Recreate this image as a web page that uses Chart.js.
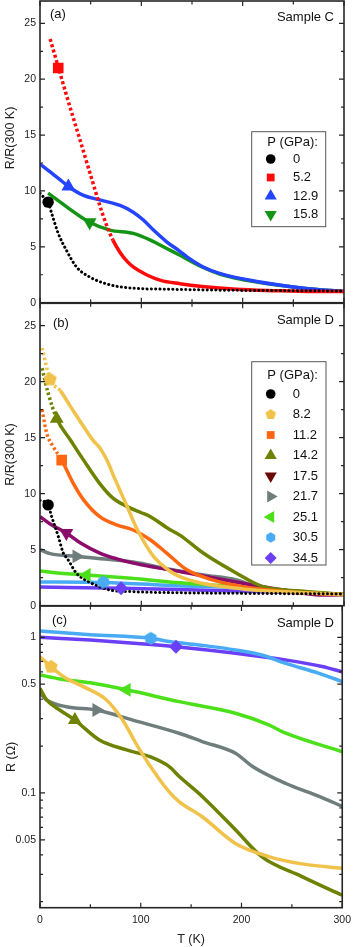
<!DOCTYPE html>
<html>
<head>
<meta charset="utf-8">
<script src="https://cdn.jsdelivr.net/npm/chart.js@4.4.1/dist/chart.umd.min.js"></script>
<style>
  body { margin: 0; background: #fff; width: 357px; height: 947px; position: relative; overflow: hidden; }
  canvas { position: absolute; left: 0; }
</style>
</head>
<body>
<canvas id="chartA" width="357" height="306" style="top:0px"></canvas>
<canvas id="chartB" width="357" height="310" style="top:300px"></canvas>
<canvas id="chartC" width="357" height="345" style="top:602px"></canvas>
<script>
// axis ticks
const X_MAJOR = [0, 100, 200, 300];
const X_MINOR = [50, 150, 250];
const Y_MAJOR = [0, 5, 10, 15, 20, 25];
const Y_MINOR = [2.5, 7.5, 12.5, 17.5, 22.5];
const LOG_MAJOR = [0.05, 0.1, 0.5, 1];
const LOG_MINOR = [0.02, 0.03, 0.04, 0.06, 0.07, 0.08, 0.09, 0.2, 0.3, 0.4, 0.6, 0.7, 0.8, 0.9];

// (a) sample C, R/R(300 K)
const T_A0 = [0, 4, 8, 11.5, 18, 26, 36, 49, 69, 92, 130, 180, 240, 300];
const R_A0 = [9.8, 9.4, 9.0, 8.0, 6.2, 4.7, 3.2, 2.3, 1.6, 1.3, 1.2, 1.12, 1.08, 1.05];
const T_A52 = [10, 18, 26, 33, 40, 46, 52, 59, 65, 72, 79, 86, 92, 105, 119, 138, 160, 194, 230, 270, 300];
const R_A52 = [23.6, 21.1, 18.6, 16.5, 14.4, 12.6, 10.8, 8.7, 7.1, 5.6, 4.5, 3.7, 3.2, 2.5, 2.0, 1.7, 1.45, 1.2, 1.08, 1.0, 1.0];
const T_A129 = [0, 10, 20, 28, 43, 59, 79, 92, 102, 112, 125, 138, 145, 161, 178, 214, 260, 300];
const R_A129 = [12.4, 11.7, 11.0, 10.4, 9.6, 9.2, 8.7, 8.1, 7.4, 6.5, 5.45, 4.6, 4.1, 3.2, 2.6, 1.9, 1.3, 1.0];
const T_A158 = [8, 26, 49, 69, 92, 109, 125, 138, 161, 178, 214, 260, 300];
const R_A158 = [9.8, 8.6, 7.2, 6.5, 6.2, 5.6, 4.85, 4.25, 3.15, 2.55, 1.85, 1.3, 1.0];
const KEYS_A = ['0', '5.2', '12.9', '15.8'];
const MARK_T_A = [8, 18, 28, 49];
const MARK_R_A = [9.0, 21.0, 10.4, 7.2];

// (b) sample D, R/R(300 K)
const T_B0 = [0, 8, 11.5, 18, 23, 27, 36, 49, 69, 92, 140, 200, 300];
const R_B0 = [9.4, 9.0, 7.95, 6.2, 4.7, 4.2, 2.9, 2.1, 1.4, 1.25, 1.15, 1.1, 1.05];
const T_B82 = [2, 10, 20, 30, 43, 52, 59, 66, 74, 86, 96, 112, 128, 138, 160, 200, 250, 300];
const R_B82 = [23.0, 20.2, 19.2, 17.8, 16.0, 14.8, 14.1, 13.0, 11.3, 8.85, 6.8, 4.4, 3.1, 2.6, 2.0, 1.5, 1.2, 1.0];
const T_B112 = [2, 6.6, 13, 21.4, 33, 43, 59, 76, 92, 109, 125, 145, 170, 200, 250, 300];
const R_B112 = [17.5, 15.4, 14.2, 13.0, 10.9, 9.45, 7.95, 7.2, 6.76, 5.87, 4.7, 3.2, 2.3, 1.7, 1.2, 1.0];
const T_B142 = [2, 8, 16.5, 30, 43, 59, 72, 86, 100, 109, 128, 138, 161, 194, 220, 260, 300];
const R_B142 = [21.2, 19.0, 16.7, 14.8, 13.0, 10.9, 9.6, 8.85, 8.3, 7.95, 6.8, 6.3, 4.7, 2.9, 1.7, 1.3, 1.0];
const T_B175 = [0, 10, 26, 40, 59, 75, 92, 115, 138, 170, 200, 240, 280, 300];
const R_B175 = [7.95, 7.3, 6.5, 5.6, 4.7, 4.2, 3.8, 3.4, 3.05, 2.5, 2.0, 1.4, 0.95, 1.0];
const T_B217 = [0, 10, 36, 60, 92, 128, 161, 194, 214, 240, 270, 300];
const R_B217 = [5.0, 4.65, 4.4, 4.2, 3.9, 3.25, 2.75, 2.3, 1.7, 1.35, 1.1, 1.0];
const T_B251 = [0, 20, 46, 90, 138, 194, 250, 300];
const R_B251 = [3.1, 2.9, 2.75, 2.45, 2.05, 1.7, 1.3, 1.0];
const T_B305 = [0, 62.5, 110, 128, 194, 244, 300];
const R_B305 = [2.12, 2.08, 1.9, 1.8, 1.6, 1.3, 1.0];
const T_B345 = [0, 80, 135, 194, 244, 300];
const R_B345 = [1.67, 1.55, 1.45, 1.32, 1.19, 1.0];
const KEYS_B = ['0', '8.2', '11.2', '14.2', '17.5', '21.7', '25.1', '30.5', '34.5'];
const MARK_T_B = [8, 10, 21.4, 16.5, 26, 36, 46, 62.5, 80];
const MARK_R_B = [9.0, 20.2, 13.0, 16.7, 6.5, 4.4, 2.75, 2.1, 1.55];

// (c) sample D, R (Ohm), log scale
const T_C82 = [0, 11, 25, 43, 66, 82, 99, 119, 128, 138, 161, 194, 227, 260, 300];
const R_C82 = [0.75, 0.647, 0.55, 0.482, 0.396, 0.294, 0.189, 0.121, 0.102, 0.088, 0.0703, 0.0474, 0.039, 0.035, 0.0328];
const T_C142 = [0, 6.6, 20, 34.6, 59, 86, 109, 128, 138, 161, 194, 220, 260, 300];
const R_C142 = [0.47, 0.396, 0.34, 0.294, 0.219, 0.189, 0.171, 0.148, 0.128, 0.095, 0.058, 0.039, 0.029, 0.022];
const T_C217 = [0, 6.6, 26, 56, 92, 138, 161, 194, 211, 244, 277, 300];
const R_C217 = [0.437, 0.396, 0.358, 0.341, 0.294, 0.242, 0.214, 0.18, 0.148, 0.115, 0.095, 0.082];
const T_C251 = [0, 20, 50, 86, 138, 194, 227, 244, 300];
const R_C251 = [0.573, 0.54, 0.51, 0.46, 0.386, 0.325, 0.274, 0.242, 0.184];
const T_C305 = [0, 50, 110, 128, 160, 194, 220, 244, 277, 300];
const R_C305 = [1.10, 1.04, 0.985, 0.94, 0.89, 0.83, 0.77, 0.68, 0.587, 0.52];
const T_C345 = [0, 50, 100, 135, 194, 244, 280, 300];
const R_C345 = [1.0, 0.96, 0.91, 0.87, 0.79, 0.715, 0.65, 0.60];
const KEYS_C = ['8.2', '14.2', '21.7', '25.1', '30.5', '34.5'];
const MARK_T_C = [11, 34.6, 56, 86, 110, 135];
const MARK_R_C = [0.647, 0.294, 0.341, 0.46, 0.985, 0.87];

const STYLE = {
  '0':    { color: '#000000', shape: 'circle' },
  '5.2':  { color: '#ff0a0a', shape: 'rect' },
  '12.9': { color: '#2444ff', shape: 'triangle' },
  '15.8': { color: '#149414', shape: 'triangle', rot: 180 },
  '8.2':  { color: '#f0c24a', shape: 'pentagon' },
  '11.2': { color: '#ff6611', shape: 'rect' },
  '14.2': { color: '#6e8200', shape: 'triangle' },
  '17.5': { color: '#8c0c6c', legend: '#6a0808', shape: 'triangle', rot: 180 },
  '21.7': { color: '#6f7d7d', shape: 'triangle', rot: 90 },
  '25.1': { color: '#4be019', shape: 'triangle', rot: 270 },
  '30.5': { color: '#4aabf5', shape: 'hexagon' },
  '34.5': { color: '#6a3ff5', shape: 'rectRot' }
};
const MARK_SIZE = { circle: 5.7, rect: 7.5, triangle: 8, pentagon: 7, hexagon: 6.5, rectRot: 7 };
const LEG_SIZE = { circle: 4.8, rect: 5.5, triangle: 7, pentagon: 5.5, hexagon: 5.2, rectRot: 6 };

const FONT = '"Liberation Sans", Arial, sans-serif';
Chart.defaults.font.family = FONT;
Chart.defaults.color = '#222';

// pentagon / hexagon are not built in, so draw them into small canvases
function polyImage(n, r, color) {
  const c = document.createElement('canvas');
  const s = Math.ceil(r * 2 + 2);
  c.width = s; c.height = s;
  const g = c.getContext('2d');
  g.fillStyle = color;
  g.beginPath();
  for (let i = 0; i < n; i++) {
    const a = -Math.PI / 2 + i * 2 * Math.PI / n;
    const px = s / 2 + Math.cos(a) * r, py = s / 2 + Math.sin(a) * r;
    i ? g.lineTo(px, py) : g.moveTo(px, py);
  }
  g.closePath();
  g.fill();
  return c;
}
function pointStyleFor(shape, color, r) {
  if (shape === 'pentagon') return polyImage(5, r, color);
  if (shape === 'hexagon') return polyImage(6, r, color);
  return shape;
}

function lineSet(xs, ys, key, extra) {
  const st = STYLE[key];
  return Object.assign({
    data: xs.map((x, i) => ({ x, y: ys[i] })),
    borderColor: st.color,
    backgroundColor: st.color,
    borderWidth: 3.5,
    pointRadius: 0,
    fill: false,
    cubicInterpolationMode: 'monotone',
    order: 2
  }, extra || {});
}
function markerSets(keys, ts, rs) {
  return keys.map((k, i) => {
    const st = STYLE[k];
    const legColor = st.legend || st.color;
    return {
      label: k,
      data: [{ x: ts[i], y: rs[i] }],
      showLine: false,
      pointStyle: pointStyleFor(st.shape, st.color, MARK_SIZE[st.shape]),
      pointRadius: MARK_SIZE[st.shape],
      pointRotation: st.rot || 0,
      pointBackgroundColor: st.color,
      pointBorderWidth: 0,
      borderColor: st.color,
      order: 0,
      legendColor: legColor,
      legendStyle: pointStyleFor(st.shape, legColor, LEG_SIZE[st.shape]),
      legendRadius: LEG_SIZE[st.shape]
    };
  });
}

const dotted = { borderDash: [0.1, 4.2], borderCapStyle: 'round', borderWidth: 3 };
const dashTop = lim => ({ segment: { borderDash: c => c.p0.parsed.x < lim ? [2.5, 2.5] : undefined } });

const dsA = [
  ...markerSets(KEYS_A, MARK_T_A, MARK_R_A),
  lineSet(T_A0, R_A0, '0', dotted),
  lineSet(T_A52, R_A52, '5.2', { segment: { borderDash: c => c.p0.parsed.y > 6.5 ? [3, 2.5] : undefined } }),
  lineSet(T_A129, R_A129, '12.9'),
  lineSet(T_A158, R_A158, '15.8')
];
const dsB = [
  ...markerSets(KEYS_B, MARK_T_B, MARK_R_B),
  lineSet(T_B0, R_B0, '0', dotted),
  lineSet(T_B82, R_B82, '8.2', dashTop(12)),
  lineSet(T_B112, R_B112, '11.2', dashTop(16)),
  lineSet(T_B142, R_B142, '14.2', dashTop(14)),
  lineSet(T_B175, R_B175, '17.5'),
  lineSet(T_B217, R_B217, '21.7'),
  lineSet(T_B251, R_B251, '25.1'),
  lineSet(T_B305, R_B305, '30.5'),
  lineSet(T_B345, R_B345, '34.5')
];
const dsC = [
  ...markerSets(KEYS_C, MARK_T_C, MARK_R_C),
  lineSet(T_C82, R_C82, '8.2'),
  lineSet(T_C142, R_C142, '14.2'),
  lineSet(T_C217, R_C217, '21.7'),
  lineSet(T_C251, R_C251, '25.1'),
  lineSet(T_C305, R_C305, '30.5'),
  lineSet(T_C345, R_C345, '34.5')
];

// frame, inward ticks, y tick labels, panel tags and the boxed legend
const panelDeco = {
  id: 'panelDeco',
  afterDraw(chart, args, o) {
    const { ctx, chartArea: a } = chart;
    const sx = chart.scales.x, sy = chart.scales.y;
    ctx.save();
    ctx.strokeStyle = '#262626';
    ctx.lineWidth = 1.2;
    ctx.beginPath();
    const xt = (vals, len) => vals.forEach(v => {
      const p = sx.getPixelForValue(v);
      ctx.moveTo(p, a.bottom); ctx.lineTo(p, a.bottom - len);
      ctx.moveTo(p, a.top); ctx.lineTo(p, a.top + len);
    });
    const yt = (vals, len) => vals.forEach(v => {
      const p = sy.getPixelForValue(v);
      if (p < a.top + 1 || p > a.bottom - 1) return;
      ctx.moveTo(a.left, p); ctx.lineTo(a.left + len, p);
      ctx.moveTo(a.right, p); ctx.lineTo(a.right - len, p);
    });
    xt(X_MAJOR, 5); xt(X_MINOR, 3.5);
    yt(o.yMajor, 5); yt(o.yMinor, 3);
    ctx.stroke();
    ctx.lineWidth = 1.6;
    ctx.strokeRect(a.left, a.top, a.right - a.left, a.bottom - a.top);

    ctx.fillStyle = '#222';
    ctx.font = '10.5px ' + FONT;
    ctx.textAlign = 'right';
    ctx.textBaseline = 'middle';
    o.yMajor.forEach(v => ctx.fillText(String(v), a.left - 4, sy.getPixelForValue(v)));

    ctx.fillStyle = '#111';
    ctx.font = '13px ' + FONT;
    ctx.textAlign = 'left';
    ctx.fillText(o.tag[0], o.tag[1], o.tag[2]);
    ctx.textAlign = 'right';
    ctx.fillText(o.sample[0], o.sample[1], o.sample[2]);

    const L = o.legend;
    if (L) {
      const [x1, y1, x2, y2] = L.box;
      ctx.fillStyle = '#fff';
      ctx.fillRect(x1, y1, x2 - x1, y2 - y1);
      ctx.strokeStyle = '#555';
      ctx.lineWidth = 1;
      ctx.strokeRect(x1, y1, x2 - x1, y2 - y1);
      ctx.fillStyle = '#111';
      ctx.textAlign = 'left';
      ctx.fillText('P (GPa):', L.titleX, L.titleY);
      const items = chart.data.datasets.filter(d => d.legendRadius);
      items.forEach((d, i) => {
        const y = L.rowY + i * L.step;
        ctx.fillStyle = d.legendColor;
        Chart.helpers.drawPoint(ctx, {
          pointStyle: d.legendStyle, radius: d.legendRadius,
          rotation: d.pointRotation, borderWidth: 0
        }, L.markX, y);
        ctx.fillStyle = '#111';
        ctx.fillText(d.label, L.textX, y);
      });
    }
    ctx.restore();
  }
};

// y labels are drawn by panelDeco, so the scale adds no edge padding
function yScale(extra, title, titlePad) {
  return Object.assign({
    afterFit: s => { s.width = 40; },
    grid: { display: false, drawTicks: false },
    border: { display: false },
    ticks: { display: false },
    title: { display: true, text: title, font: { size: 12.5 }, padding: { top: titlePad, bottom: 0 } }
  }, extra);
}

function makeChart(id, datasets, padding, yOpts, xOpts, deco) {
  return new Chart(document.getElementById(id), {
    type: 'line',
    data: { datasets },
    options: {
      responsive: false,
      animation: false,
      events: [],
      layout: { padding, autoPadding: false },
      plugins: { legend: { display: false }, tooltip: { enabled: false }, panelDeco: deco },
      scales: { x: xOpts, y: yOpts }
    },
    plugins: [panelDeco]
  });
}

const hiddenX = { type: 'linear', min: 0, max: 300, display: false };

makeChart('chartA', dsA, { top: 1, bottom: 3.3, left: 0, right: 13 },
  yScale({ type: 'linear', min: 0, max: 27 }, '        R/R(300 K)', 3.5),
  hiddenX,
  { yMajor: Y_MAJOR, yMinor: Y_MINOR, tag: ['(a)', 50, 14], sample: ['Sample C', 334, 17],
    legend: { box: [251.7, 131.7, 325.7, 226.7], titleX: 267.3, titleY: 142,
      rowY: 159, step: 18.5, markX: 270.7, textX: 293 } });

makeChart('chartB', dsB, { top: 3.3, bottom: 4.3, left: 0, right: 13 },
  yScale({ type: 'linear', min: 0, max: 27 }, 'R/R(300 K)', 3.5),
  hiddenX,
  { yMajor: Y_MAJOR, yMinor: Y_MINOR, tag: ['(b)', 53, 23], sample: ['Sample D', 334, 20],
    legend: { box: [251.7, 61.7, 326, 265], titleX: 267.3, titleY: 75,
      rowY: 94, step: 20.5, markX: 270.7, textX: 292.7 } });

makeChart('chartC', dsC, { top: 4, bottom: 0, left: 0, right: 13 },
  yScale({ type: 'logarithmic', min: 0.0183, max: 1.59 }, 'R (\u03A9)', 4.5),
  {
    type: 'linear', min: 0, max: 300,
    afterFit: s => { s.height = 39.3; },
    afterBuildTicks: s => { s.ticks = X_MAJOR.map(v => ({ value: v })); },
    grid: { display: false, drawTicks: false },
    border: { display: false },
    ticks: { padding: 6, font: { size: 10.5 }, maxRotation: 0 },
    title: { display: true, text: 'T (K)', font: { size: 12.5 }, padding: { top: 0, bottom: 0 } }
  },
  { yMajor: LOG_MAJOR, yMinor: LOG_MINOR, tag: ['(c)', 52, 18], sample: ['Sample D', 334, 21] });
</script>
</body>
</html>
